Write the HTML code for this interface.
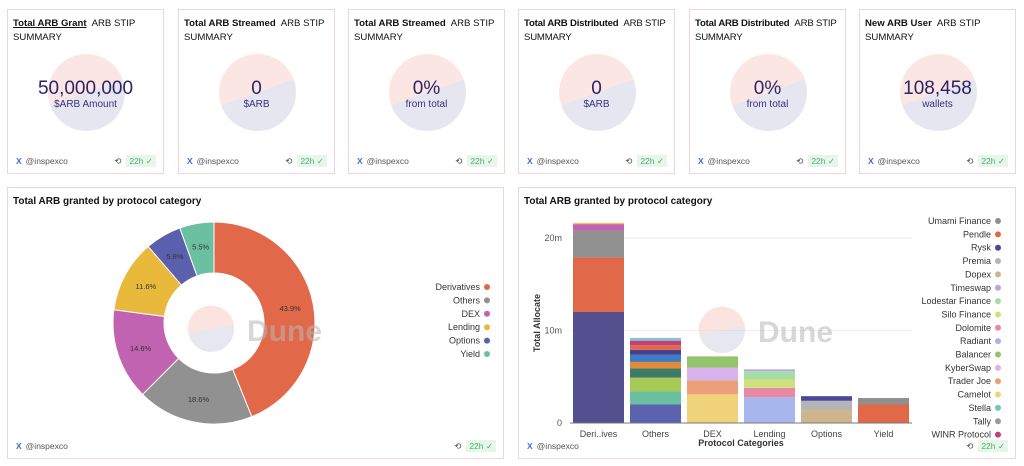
<!DOCTYPE html>
<html><head><meta charset="utf-8">
<style>
*{box-sizing:border-box;margin:0;padding:0}
body{width:1024px;height:466px;background:#fff;font-family:"Liberation Sans",sans-serif;position:relative;overflow:hidden;color:#111}
.card{position:absolute;top:9px;width:157px;height:165px;border:1px solid #f3d3d3;background:#fff;overflow:hidden}
.ttl{position:absolute;left:5px;top:7px;font-size:9.6px;line-height:14px;width:152px;white-space:nowrap}
.ttl b{font-weight:bold;margin-right:5px}
.wm{position:absolute;left:40px;top:44px;width:77px;height:77px;border-radius:50%;background:linear-gradient(160deg,#fbe6e3 50%,#e6e6f0 50%)}
.big{position:absolute;left:0;width:100%;text-align:center;top:68px;font-size:19px;color:#2d2466}
.sub{position:absolute;left:0;width:100%;text-align:center;top:89px;font-size:10px;color:#3a2f80}
.foot{position:absolute;left:8px;bottom:7px;font-size:8.5px;color:#555}
.foot span{color:#3b6fd6;font-weight:bold;margin-right:4px}
.stat{position:absolute;right:7px;bottom:6px;font-size:8.5px;color:#444}
.stat i{font-style:normal;background:#e6f6ea;color:#4caf6a;padding:1px 3px;margin-left:5px}
.panel{position:absolute;top:187px;border:1px solid #f3d3d3;background:#fff}
.ptitle{position:absolute;left:5px;top:8px;font-size:10px;font-weight:bold}
</style></head><body>

<div class="card" style="left:7px">
<div class="ttl"><b style="text-decoration:underline">Total ARB Grant</b>ARB STIP<br>SUMMARY</div>
<div class="wm"></div>
<div class="big">50,000,000</div>
<div class="sub">$ARB Amount</div>
<div class="foot"><span>X</span>@inspexco</div>
<div class="stat">⟲<i>22h ✓</i></div>
</div>
<div class="card" style="left:178px">
<div class="ttl"><b>Total ARB Streamed</b>ARB STIP<br>SUMMARY</div>
<div class="wm"></div>
<div class="big">0</div>
<div class="sub">$ARB</div>
<div class="foot"><span>X</span>@inspexco</div>
<div class="stat">⟲<i>22h ✓</i></div>
</div>
<div class="card" style="left:348px">
<div class="ttl"><b>Total ARB Streamed</b>ARB STIP<br>SUMMARY</div>
<div class="wm"></div>
<div class="big">0%</div>
<div class="sub">from total</div>
<div class="foot"><span>X</span>@inspexco</div>
<div class="stat">⟲<i>22h ✓</i></div>
</div>
<div class="card" style="left:518px">
<div class="ttl" style="letter-spacing:-0.2px"><b>Total ARB Distributed</b>ARB STIP<br>SUMMARY</div>
<div class="wm"></div>
<div class="big">0</div>
<div class="sub">$ARB</div>
<div class="foot"><span>X</span>@inspexco</div>
<div class="stat">⟲<i>22h ✓</i></div>
</div>
<div class="card" style="left:689px">
<div class="ttl" style="letter-spacing:-0.2px"><b>Total ARB Distributed</b>ARB STIP<br>SUMMARY</div>
<div class="wm"></div>
<div class="big">0%</div>
<div class="sub">from total</div>
<div class="foot"><span>X</span>@inspexco</div>
<div class="stat">⟲<i>22h ✓</i></div>
</div>
<div class="card" style="left:859px">
<div class="ttl"><b>New ARB User</b>ARB STIP<br>SUMMARY</div>
<div class="wm"></div>
<div class="big">108,458</div>
<div class="sub">wallets</div>
<div class="foot"><span>X</span>@inspexco</div>
<div class="stat">⟲<i>22h ✓</i></div>
</div>

<div class="panel" style="left:7px;width:497px;height:272px">
<div class="ptitle">Total ARB granted by protocol category</div>
<div class="foot"><span>X</span>@inspexco</div>
<div class="stat">⟲<i>22h ✓</i></div>
</div>
<div class="panel" style="left:518px;width:498px;height:272px">
<div class="ptitle">Total ARB granted by protocol category</div>
<div class="foot"><span>X</span>@inspexco</div>
<div class="stat">⟲<i>22h ✓</i></div>
</div>

<svg id="charts" width="1024" height="466" style="position:absolute;left:0;top:0" font-family="Liberation Sans, sans-serif"></svg>

<script>
// Donut data
const pieCats=["Derivatives","Others","DEX","Lending","Options","Yield"];
const pieVals=[43.9,18.6,14.6,11.6,5.8,5.5];
const pieColors=["#e2684a","#919191","#c163b0","#e9b93c","#5b60ad","#6cc0a2"];
// Bar data (stacked segments per category, bottom to top, values in millions)
const barCats=["Deri..ives","Others","DEX","Lending","Options","Yield"];
const derivVals=[12,5.9,2.9,0.7,0.15];
const derivCols=["#54508f","#e2684a","#919191","#c163b0","#f0c36e"];
const othersVals=[2.0,1.4,1.5,1.0,0.7,0.8,0.5,0.5,0.5,0.3];
const othersCols=["#5b63b0","#6cc0a2","#a7c956","#3f7a66","#e08a3a","#3f7dc0","#4a3f8f","#e2684a","#c0407a","#86c2c6"];
const dexVals=[3.1,1.5,1.4,1.2];
const dexCols=["#f0d27a","#eba07a","#d9b3ec","#93c36a"];
const lendVals=[2.8,1.0,0.9,0.9,0.2];
const lendCols=["#a7b6ec","#e88aa6","#cfe07a","#a6dca6","#b0a8e0"];
const optVals=[1.4,1.0,0.5];
const optCols=["#cfb58c","#b5b5b5","#4a4896"];
const yieldVals=[2.0,0.7];
const yieldCols=["#e2684a","#8f8f8f"];
const barStacks=[derivVals,othersVals,dexVals,lendVals,optVals,yieldVals];
const barStackCols=[derivCols,othersCols,dexCols,lendCols,optCols,yieldCols];
const yTicks=[0,10,20];
const yTickLabels=["0","10m","20m"];
const legendNames=["Umami Finance","Pendle","Rysk","Premia","Dopex","Timeswap","Lodestar Finance","Silo Finance","Dolomite","Radiant","Balancer","KyberSwap","Trader Joe","Camelot","Stella","Tally","WINR Protocol"];
const legendCols=["#8f8f8f","#e2684a","#4a4896","#b5b5b5","#cfb58c","#b0a8e0","#a6dca6","#cfe07a","#e88aa6","#a7b6ec","#93c36a","#d9b3ec","#eba07a","#f0d27a","#6cc6c0","#9a9a9a","#c0407a"];

const svg=document.getElementById('charts');
const NS="http://www.w3.org/2000/svg";
function mk(tag,attrs,parent){const e=document.createElementNS(NS,tag);for(const k in attrs)e.setAttribute(k,attrs[k]);(parent||svg).appendChild(e);return e;}

function wm(cx,cy,tx){
  const g=mk('g',{opacity:0.55});
  
  
  mk('circle',{cx:cx,cy:cy,r:23,fill:'#d4d4e4'},g);
  mk('path',{d:`M${cx-23},${cy+4} A23,23 0 0 1 ${cx+23},${cy-4} Z`,fill:'#f8cfc8'},g);
  const t=mk('text',{x:tx,y:cy+12,'font-size':30,'font-weight':'bold',fill:'#b8b8b8'},g);t.textContent='Dune';
}

// ---- Donut ----
const cx=214,cy=323,R=101,r=50;
const tot=pieVals.reduce((a,b)=>a+b,0);
let ang=0;
pieVals.forEach((v,i)=>{
  const a0=ang,a1=ang+v/tot*2*Math.PI;ang=a1;
  const p=(a,rad)=>[cx+rad*Math.sin(a),cy-rad*Math.cos(a)];
  const [x0,y0]=p(a0,R),[x1,y1]=p(a1,R),[x2,y2]=p(a1,r),[x3,y3]=p(a0,r);
  const lg=(a1-a0)>Math.PI?1:0;
  const s=mk('path',{d:`M${x0},${y0}A${R},${R} 0 ${lg} 1 ${x1},${y1}L${x2},${y2}A${r},${r} 0 ${lg} 0 ${x3},${y3}Z`,fill:pieColors[i],stroke:'#fff','stroke-width':1});
  
  
  const [lx,ly]=p((a0+a1)/2,(R+r)/2+2);
  const t=mk('text',{x:lx,y:ly+3,'font-size':7.5,'text-anchor':'middle',fill:'#333'});
  t.textContent=v.toFixed(1)+'%';
  
  
});
wm(211,329,247);
pieCats.forEach((c,i)=>{
  const y=290+i*13.4;
  const t=mk('text',{x:480,y:y,'font-size':9,'text-anchor':'end',fill:'#333'});t.textContent=c;
  
  
  mk('circle',{cx:487,cy:y-3,r:3,fill:pieColors[i]});
});

// ---- Stacked bar ----
const x0=570,x1=912,yBase=423,pxPerM=9.25;
const yS=v=>yBase-v*pxPerM;
const step=(x1-x0)/barCats.length, bw=51;
yTicks.forEach((v,i)=>{
  if(v>0) mk('line',{x1:x0,x2:x1,y1:yS(v),y2:yS(v),stroke:'#eee'});
  const t=mk('text',{x:562,y:yS(v)+3,'font-size':9,'text-anchor':'end',fill:'#555'});t.textContent=yTickLabels[i];
  
  
});
wm(722,330,758);
barStacks.forEach((vals,ci)=>{
  let acc=0;
  const bx=x0+ci*step+(step-bw)/2;
  vals.forEach((v,si)=>{
    const rc=mk('rect',{x:bx,y:yS(acc+v),width:bw,height:v*pxPerM,fill:barStackCols[ci][si]});
    
    
    acc+=v;
  });
  const t=mk('text',{x:bx+bw/2,y:yBase+14,'font-size':9,'text-anchor':'middle',fill:'#444'});t.textContent=barCats[ci];
  
  
});
mk('line',{x1:x0,x2:x1,y1:yBase,y2:yBase,stroke:'#777'});
let t=mk('text',{x:(x0+x1)/2,y:446,'font-size':9,'font-weight':'bold','text-anchor':'middle',fill:'#333'});t.textContent='Protocol Categories';


t=mk('text',{x:540,y:323,'font-size':9,'font-weight':'bold','text-anchor':'middle',fill:'#333',transform:'rotate(-90 540 323)'});t.textContent='Total Allocate';


legendNames.forEach((n,i)=>{
  const y=224+i*13.35;
  const tt=mk('text',{x:991,y:y,'font-size':9,'text-anchor':'end',fill:'#333'});tt.textContent=n;
  
  
  mk('circle',{cx:998,cy:y-3,r:3,fill:legendCols[i]});
});
</script>
</body></html>
